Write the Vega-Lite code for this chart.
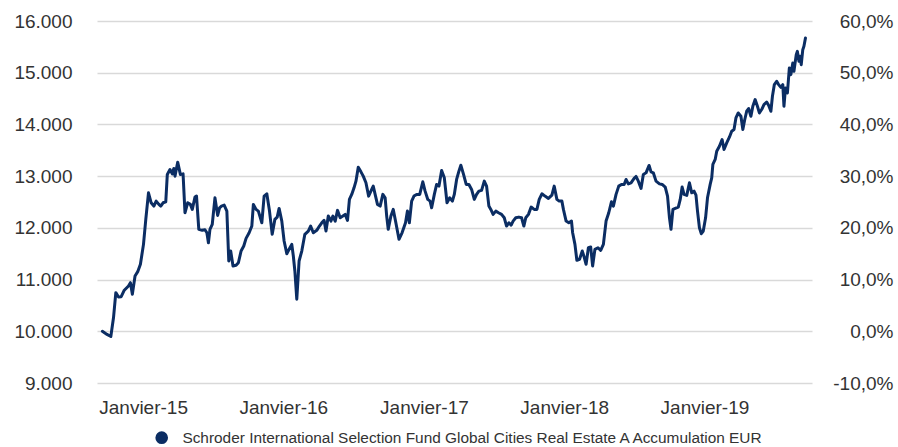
{
  "$schema": "https://vega.github.io/schema/vega-lite/v6.json",
  "width": 715,
  "height": 362,
  "autosize": {"type": "none"},
  "padding": {"left": 97, "top": 21, "right": 86, "bottom": 64},
  "background": "#ffffff",
  "config": {
    "view": {"stroke": null},
    "font": "Liberation Sans",
    "axis": {"labelFont": "Liberation Sans", "labelFontSize": 19, "labelColor": "#333333", "domain": false, "ticks": false, "tickSize": 0, "title": null}
  },
  "layer": [
    {
      "data": {"values": [
        {"date":"2014-09-17","v":10000},{"date":"2014-09-29","v":9940},{"date":"2014-10-09","v":9900},{"date":"2014-10-16","v":10265},{"date":"2014-10-22","v":10747},{"date":"2014-10-29","v":10664},{"date":"2014-11-05","v":10670},{"date":"2014-11-13","v":10794},{"date":"2014-11-24","v":10877},{"date":"2014-11-29","v":10940},{"date":"2014-12-04","v":10716},{"date":"2014-12-11","v":11070},{"date":"2014-12-18","v":11153},{"date":"2014-12-25","v":11296},
        {"date":"2015-01-02","v":11681},{"date":"2015-01-08","v":12164},{"date":"2015-01-15","v":12678},{"date":"2015-01-22","v":12485},{"date":"2015-01-29","v":12421},{"date":"2015-02-04","v":12517},{"date":"2015-02-11","v":12454},{"date":"2015-02-16","v":12421},{"date":"2015-02-22","v":12485},{"date":"2015-03-01","v":12504},{"date":"2015-03-05","v":13033},{"date":"2015-03-12","v":13129},{"date":"2015-03-18","v":13044},{"date":"2015-03-22","v":13149},{"date":"2015-03-25","v":13000},{"date":"2015-04-01","v":13270},{"date":"2015-04-08","v":13033},{"date":"2015-04-15","v":13044},{"date":"2015-04-20","v":12292},{"date":"2015-04-27","v":12485},{"date":"2015-05-04","v":12454},{"date":"2015-05-09","v":12357},{"date":"2015-05-16","v":12595},{"date":"2015-05-20","v":12614},{"date":"2015-05-26","v":11971},{"date":"2015-06-04","v":11952},{"date":"2015-06-11","v":11963},{"date":"2015-06-16","v":11906},{"date":"2015-06-20","v":11712},{"date":"2015-06-24","v":11971},{"date":"2015-06-30","v":12068},{"date":"2015-07-07","v":12581},{"date":"2015-07-14","v":12241},{"date":"2015-07-19","v":12388},{"date":"2015-07-24","v":12421},{"date":"2015-07-31","v":12440},{"date":"2015-08-07","v":12324},{"date":"2015-08-12","v":11359},{"date":"2015-08-17","v":11552},{"date":"2015-08-23","v":11263},{"date":"2015-08-31","v":11276},{"date":"2015-09-06","v":11326},{"date":"2015-09-13","v":11552},{"date":"2015-09-20","v":11649},{"date":"2015-09-26","v":11797},{"date":"2015-10-04","v":11905},{"date":"2015-10-11","v":12035},{"date":"2015-10-15","v":12454},{"date":"2015-10-22","v":12357},{"date":"2015-10-28","v":12324},{"date":"2015-11-06","v":12098},{"date":"2015-11-12","v":12614},{"date":"2015-11-19","v":12658},{"date":"2015-11-26","v":12324},{"date":"2015-12-03","v":11875},{"date":"2015-12-10","v":12164},{"date":"2015-12-16","v":12208},{"date":"2015-12-21","v":12376},{"date":"2015-12-28","v":12131},
        {"date":"2016-01-03","v":11745},{"date":"2016-01-10","v":11500},{"date":"2016-01-16","v":11585},{"date":"2016-01-23","v":11681},{"date":"2016-01-27","v":11456},{"date":"2016-01-31","v":11166},{"date":"2016-02-05","v":10620},{"date":"2016-02-11","v":11359},{"date":"2016-02-18","v":11552},{"date":"2016-02-26","v":11875},{"date":"2016-03-06","v":11938},{"date":"2016-03-12","v":12035},{"date":"2016-03-19","v":11905},{"date":"2016-03-28","v":11952},{"date":"2016-04-04","v":12035},{"date":"2016-04-10","v":12098},{"date":"2016-04-16","v":12145},{"date":"2016-04-21","v":11938},{"date":"2016-04-27","v":12228},{"date":"2016-05-04","v":12131},{"date":"2016-05-09","v":12228},{"date":"2016-05-15","v":12131},{"date":"2016-05-21","v":12338},{"date":"2016-05-28","v":12195},{"date":"2016-06-04","v":12228},{"date":"2016-06-10","v":12261},{"date":"2016-06-16","v":12145},{"date":"2016-06-21","v":12550},{"date":"2016-06-27","v":12647},{"date":"2016-07-03","v":12774},{"date":"2016-07-08","v":12903},{"date":"2016-07-14","v":13174},{"date":"2016-07-21","v":13083},{"date":"2016-07-27","v":13000},{"date":"2016-08-03","v":12871},{"date":"2016-08-10","v":12614},{"date":"2016-08-18","v":12743},{"date":"2016-08-22","v":12807},{"date":"2016-08-28","v":12614},{"date":"2016-09-02","v":12454},{"date":"2016-09-09","v":12421},{"date":"2016-09-16","v":12647},{"date":"2016-09-22","v":12581},{"date":"2016-09-26","v":12228},{"date":"2016-09-30","v":11971},{"date":"2016-10-07","v":12228},{"date":"2016-10-13","v":12357},{"date":"2016-10-19","v":12131},{"date":"2016-10-28","v":11778},{"date":"2016-11-05","v":11905},{"date":"2016-11-14","v":12098},{"date":"2016-11-19","v":12324},{"date":"2016-11-24","v":12098},{"date":"2016-11-30","v":12517},{"date":"2016-12-06","v":12614},{"date":"2016-12-13","v":12647},{"date":"2016-12-21","v":12647},{"date":"2016-12-29","v":12890},
        {"date":"2017-01-04","v":12710},{"date":"2017-01-11","v":12550},{"date":"2017-01-17","v":12517},{"date":"2017-01-21","v":12388},{"date":"2017-01-28","v":12647},{"date":"2017-02-03","v":12840},{"date":"2017-02-09","v":12807},{"date":"2017-02-16","v":13110},{"date":"2017-02-23","v":12967},{"date":"2017-03-02","v":12485},{"date":"2017-03-09","v":12581},{"date":"2017-03-16","v":12517},{"date":"2017-03-21","v":12647},{"date":"2017-03-27","v":12936},{"date":"2017-04-02","v":13097},{"date":"2017-04-07","v":13212},{"date":"2017-04-14","v":13033},{"date":"2017-04-21","v":12840},{"date":"2017-04-28","v":12840},{"date":"2017-05-05","v":12743},{"date":"2017-05-12","v":12550},{"date":"2017-05-18","v":12647},{"date":"2017-05-24","v":12710},{"date":"2017-05-31","v":12724},{"date":"2017-06-07","v":12903},{"date":"2017-06-13","v":12807},{"date":"2017-06-19","v":12421},{"date":"2017-06-24","v":12357},{"date":"2017-06-30","v":12261},{"date":"2017-07-07","v":12324},{"date":"2017-07-14","v":12292},{"date":"2017-07-22","v":12261},{"date":"2017-07-29","v":12195},{"date":"2017-08-04","v":12035},{"date":"2017-08-10","v":12098},{"date":"2017-08-16","v":12054},{"date":"2017-08-21","v":12131},{"date":"2017-08-28","v":12195},{"date":"2017-09-05","v":12208},{"date":"2017-09-12","v":12195},{"date":"2017-09-18","v":12035},{"date":"2017-09-23","v":12195},{"date":"2017-09-30","v":12261},{"date":"2017-10-07","v":12402},{"date":"2017-10-15","v":12357},{"date":"2017-10-22","v":12357},{"date":"2017-10-28","v":12550},{"date":"2017-11-04","v":12658},{"date":"2017-11-12","v":12614},{"date":"2017-11-21","v":12570},{"date":"2017-11-30","v":12633},{"date":"2017-12-06","v":12807},{"date":"2017-12-13","v":12550},{"date":"2017-12-19","v":12517},{"date":"2017-12-26","v":12517},{"date":"2017-12-30","v":12357},
        {"date":"2018-01-06","v":12131},{"date":"2018-01-13","v":12098},{"date":"2018-01-20","v":12131},{"date":"2018-01-23","v":11905},{"date":"2018-01-29","v":11681},{"date":"2018-02-03","v":11373},{"date":"2018-02-10","v":11392},{"date":"2018-02-17","v":11552},{"date":"2018-02-22","v":11436},{"date":"2018-02-27","v":11295},{"date":"2018-03-05","v":11616},{"date":"2018-03-11","v":11629},{"date":"2018-03-16","v":11263},{"date":"2018-03-22","v":11585},{"date":"2018-03-30","v":11616},{"date":"2018-04-06","v":11566},{"date":"2018-04-13","v":11681},{"date":"2018-04-20","v":12131},{"date":"2018-04-27","v":12292},{"date":"2018-05-04","v":12504},{"date":"2018-05-09","v":12421},{"date":"2018-05-16","v":12647},{"date":"2018-05-23","v":12807},{"date":"2018-05-30","v":12840},{"date":"2018-06-06","v":12840},{"date":"2018-06-11","v":12936},{"date":"2018-06-17","v":12851},{"date":"2018-06-24","v":12871},{"date":"2018-07-02","v":12956},{"date":"2018-07-07","v":12994},{"date":"2018-07-13","v":12903},{"date":"2018-07-20","v":12763},{"date":"2018-07-26","v":13033},{"date":"2018-08-02","v":13064},{"date":"2018-08-10","v":13207},{"date":"2018-08-15","v":13083},{"date":"2018-08-21","v":13064},{"date":"2018-08-28","v":12903},{"date":"2018-09-06","v":12851},{"date":"2018-09-13","v":12840},{"date":"2018-09-21","v":12788},{"date":"2018-09-27","v":12614},{"date":"2018-10-02","v":12195},{"date":"2018-10-06","v":11971},{"date":"2018-10-11","v":12357},{"date":"2018-10-17","v":12376},{"date":"2018-10-25","v":12402},{"date":"2018-10-30","v":12550},{"date":"2018-11-04","v":12788},{"date":"2018-11-09","v":12647},{"date":"2018-11-16","v":12627},{"date":"2018-11-23","v":12871},{"date":"2018-11-29","v":12678},{"date":"2018-12-05","v":12710},{"date":"2018-12-10","v":12633},{"date":"2018-12-14","v":12324},{"date":"2018-12-19","v":12002},{"date":"2018-12-24","v":11886},{"date":"2018-12-29","v":11938},
        {"date":"2019-01-04","v":12195},{"date":"2019-01-09","v":12581},{"date":"2019-01-16","v":12840},{"date":"2019-01-20","v":12967},{"date":"2019-01-23","v":13226},{"date":"2019-01-29","v":13322},{"date":"2019-02-02","v":13483},{"date":"2019-02-09","v":13579},{"date":"2019-02-16","v":13708},{"date":"2019-02-21","v":13515},{"date":"2019-02-28","v":13643},{"date":"2019-03-07","v":13753},{"date":"2019-03-13","v":13869},{"date":"2019-03-19","v":13902},{"date":"2019-03-24","v":14125},{"date":"2019-03-30","v":14222},{"date":"2019-04-06","v":14158},{"date":"2019-04-11","v":13902},{"date":"2019-04-16","v":14095},{"date":"2019-04-21","v":14255},{"date":"2019-04-26","v":14307},{"date":"2019-05-02","v":14158},{"date":"2019-05-07","v":14351},{"date":"2019-05-13","v":14481},{"date":"2019-05-19","v":14351},{"date":"2019-05-24","v":14222},{"date":"2019-05-30","v":14288},{"date":"2019-06-05","v":14384},{"date":"2019-06-12","v":14434},{"date":"2019-06-17","v":14371},{"date":"2019-06-23","v":14255},{"date":"2019-06-27","v":14544},{"date":"2019-07-02","v":14770},{"date":"2019-07-08","v":14834},{"date":"2019-07-13","v":14770},{"date":"2019-07-19","v":14718},{"date":"2019-07-24","v":14770},{"date":"2019-07-27","v":14351},{"date":"2019-07-31","v":14705},{"date":"2019-08-05","v":14608},{"date":"2019-08-10","v":15091},{"date":"2019-08-14","v":14963},{"date":"2019-08-19","v":15187},{"date":"2019-08-22","v":15027},{"date":"2019-08-28","v":15349},{"date":"2019-08-31","v":15413},{"date":"2019-09-04","v":15220},{"date":"2019-09-07","v":15317},{"date":"2019-09-10","v":15156},{"date":"2019-09-14","v":15445},{"date":"2019-09-17","v":15510},{"date":"2019-09-21","v":15670}
      ]},
      "mark": {"type": "line", "strokeWidth": 3, "strokeJoin": "round", "strokeCap": "round"},
      "encoding": {
        "x": {
          "field": "date", "type": "temporal",
          "scale": {"type": "utc", "domain": [{"year": 2014, "month": 9, "date": 3, "utc": true}, {"year": 2019, "month": 10, "date": 8, "utc": true}]},
          "axis": {
            "grid": false, "labelPadding": 15,
            "values": [{"year": 2015, "month": 1, "date": 1, "utc": true}, {"year": 2016, "month": 1, "date": 1, "utc": true}, {"year": 2017, "month": 1, "date": 1, "utc": true}, {"year": 2018, "month": 1, "date": 1, "utc": true}, {"year": 2019, "month": 1, "date": 1, "utc": true}],
            "labelExpr": "'Janvier-' + utcFormat(datum.value, '%y')"
          }
        },
        "y": {
          "field": "v", "type": "quantitative",
          "scale": {"domain": [9000, 16000], "nice": false, "zero": false},
          "axis": {
            "orient": "left", "grid": true, "gridColor": "#d9d9d9", "gridWidth": 1.5,
            "values": [9000, 10000, 11000, 12000, 13000, 14000, 15000, 16000],
            "labelPadding": 25,
            "labelExpr": "replace(format(datum.value, ','), ',', '.')"
          }
        },
        "color": {
          "datum": "Schroder International Selection Fund Global Cities Real Estate A Accumulation EUR",
          "scale": {"range": ["#0b2d63"]},
          "legend": {
            "title": null, "orient": "none", "legendX": 57, "legendY": 409, "padding": 0,
            "symbolType": "circle", "symbolSize": 160, "symbolFillColor": "#0b2d63", "symbolStrokeColor": "#0b2d63", "symbolStrokeWidth": 0,
            "labelFont": "Liberation Sans", "labelFontSize": 15.4, "labelColor": "#333333", "labelOffset": 13, "labelLimit": 0
          }
        }
      }
    },
    {
      "data": {"values": [{"pct": -0.1}, {"pct": 0.6}]},
      "mark": {"type": "point", "opacity": 0},
      "encoding": {
        "y": {
          "field": "pct", "type": "quantitative",
          "scale": {"domain": [-0.1, 0.6], "nice": false, "zero": false},
          "axis": {
            "orient": "right", "grid": false,
            "values": [-0.1, 0, 0.1, 0.2, 0.3, 0.4, 0.5, 0.6],
            "labelPadding": 81, "labelAlign": "right",
            "labelExpr": "replace(replace(format(datum.value, '.1%'), '.', ','), '\u2212', '-')"
          }
        }
      }
    }
  ],
  "resolve": {"scale": {"y": "independent"}}
}
